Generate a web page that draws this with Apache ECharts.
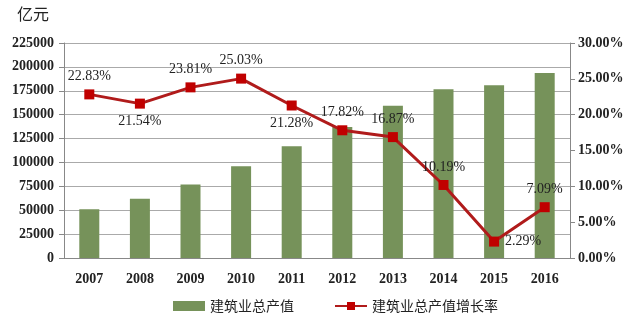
<!DOCTYPE html>
<html><head><meta charset="utf-8">
<script src="https://cdn.jsdelivr.net/npm/echarts@6/dist/echarts.min.js"></script>
<style>html,body{margin:0;padding:0;background:#fff}#c{width:640px;height:322px}</style>
</head><body><div id="c"></div>
<script>
var years = ['2007','2008','2009','2010','2011','2012','2013','2014','2015','2016'];
var output = [51044, 62037, 76808, 96031, 117060, 137218, 159313, 176713, 180757, 193567];
var growth = [22.83, 21.54, 23.81, 25.03, 21.28, 17.82, 16.87, 10.19, 2.29, 7.09];
var labelPos = ['top','bottom','top','top','bottom','top','top','top','right','top'];
var FONT = '"Liberation Serif", "Noto Sans CJK SC", serif';

var chart = echarts.init(document.getElementById('c'));
chart.setOption({
  animation: false,
  textStyle: {fontFamily: FONT, color: '#111'},
  grid: {left: 64, right: 70, top: 43, bottom: 64},
  graphic: [{type: 'text', left: 17, top: 6, style: {text: '亿元', font: '16px "Noto Sans CJK SC"', fill: '#222'}}],
  legend: {
    bottom: 4, left: 168, itemGap: 40, itemWidth: 32, itemHeight: 10,
    textStyle: {fontFamily: '"Noto Sans CJK SC"', fontSize: 14, color: '#222'},
    data: [{name: '建筑业总产值', icon: 'rect'}, {name: '建筑业总产值增长率'}]
  },
  xAxis: {
    type: 'category', data: years,
    axisLine: {lineStyle: {color: '#888'}},
    axisTick: {lineStyle: {color: '#888'}, length: 5},
    axisLabel: {fontFamily: FONT, fontSize: 14, fontWeight: 'bold', color: '#222', margin: 14}
  },
  yAxis: [{
    type: 'value', min: 0, max: 225000, interval: 25000,
    axisLine: {show: true, lineStyle: {color: '#888'}},
    axisTick: {show: true, lineStyle: {color: '#888'}, length: 5},
    splitLine: {lineStyle: {color: '#aaa'}},
    axisLabel: {fontFamily: FONT, fontSize: 14, fontWeight: 'bold', color: '#222', margin: 10,
      formatter: function(v){return String(v);}}
  }, {
    type: 'value', min: 0, max: 30, interval: 5, position: 'right',
    axisLine: {show: true, lineStyle: {color: '#888'}},
    axisTick: {show: true, lineStyle: {color: '#888'}, length: 5},
    splitLine: {show: false},
    axisLabel: {fontFamily: FONT, fontSize: 14, fontWeight: 'bold', color: '#222', margin: 8,
      formatter: function(v){return v.toFixed(2)+'%';}}
  }],
  series: [{
    name: '建筑业总产值', type: 'bar', data: output, barWidth: 20,
    itemStyle: {color: '#76925A'}
  }, {
    name: '建筑业总产值增长率', type: 'line', yAxisIndex: 1,
    data: growth.map(function(v,i){return {value: v, label: {position: labelPos[i]}};}),
    symbol: 'rect', symbolSize: 10,
    lineStyle: {color: '#B01B1B', width: 3},
    itemStyle: {color: '#C00000'},
    label: {show: true, fontFamily: FONT, fontSize: 14, color: '#222', distance: 6,
      formatter: function(p){return p.value.toFixed(2)+'%';}}
  }]
});
</script></body></html>
